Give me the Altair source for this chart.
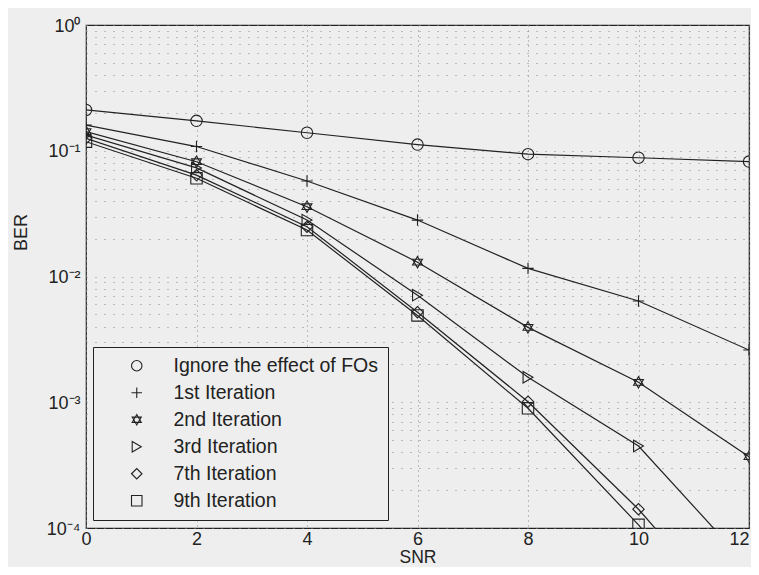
import altair as alt
import pandas as pd

snr = [0, 2, 4, 6, 8, 10, 12]
series_names = [
    "Ignore the effect of FOs",
    "1st Iteration",
    "2nd Iteration",
    "3rd Iteration",
    "7th Iteration",
    "9th Iteration",
]
ber_ignore = [0.211, 0.173, 0.139, 0.112, 0.094, 0.088, 0.082]
ber_it1 = [0.160, 0.108, 0.0575, 0.0281, 0.0116, 0.00638, 0.0026]
ber_it2 = [0.142, 0.0818, 0.0359, 0.0130, 0.00394, 0.00144, 0.000369]
ber_it3 = [0.133, 0.073, 0.0281, 0.0071, 0.00158, 0.000449, 0.000049]
ber_it7 = [0.1256, 0.064, 0.0249, 0.0052, 0.00101, 0.000141, 0.000014]
ber_it9 = [0.118, 0.0604, 0.0234, 0.0049, 0.000895, 0.000106, 0.000009]

all_series = [ber_ignore, ber_it1, ber_it2, ber_it3, ber_it7, ber_it9]

shapes = [
    "circle",
    "M-1,0L1,0M0,-1L0,1",
    "M0,-1L0.866,0.5L-0.866,0.5ZM0,1L0.866,-0.5L-0.866,-0.5Z",
    "triangle-right",
    "diamond",
    "square",
]

y_ticks = [k * 10.0 ** e for e in range(-4, 0) for k in range(1, 10)] + [1.0]
x_ticks = [0, 2, 4, 6, 8, 10, 12]

rows = []
for name, vals in zip(series_names, all_series):
    for x, v in zip(snr, vals):
        rows.append({"series": name, "snr": x, "ber": v})
df = pd.DataFrame(rows)

FONT = "Liberation Sans"
BG = "#eeeeee"
INK = "#222222"

e_expr = "round(log(datum.value)/LN10)"
is_dec = f"abs(log(datum.value)/LN10 - {e_expr}) < 1e-6"
label_expr = (
    f"!({is_dec}) ? '' : {e_expr} == 0 ? '10⁰' : {e_expr} == -1 ? '10⁻¹' : "
    f"{e_expr} == -2 ? '10⁻²' : {e_expr} == -3 ? '10⁻³' : '10⁻⁴'"
)

x_enc = alt.X(
    "snr:Q",
    scale=alt.Scale(domain=[0, 12], nice=False),
    axis=alt.Axis(
        values=x_ticks,
        format="d",
        title="SNR",
        grid=True,
        gridDash=[1, 4],
        gridColor="#888888",
        ticks=False,
        domain=False,
        labelFont=FONT,
        labelFontSize=18,
        labelColor=INK,
        labelPadding=2,
        labelAlign=alt.ExprRef(expr="datum.value == 12 ? 'right' : 'center'"),
        titleFont=FONT,
        titleFontSize=17.5,
        titleFontWeight="normal",
        titleColor=INK,
        titleBaseline="top",
        titleY=20.5,
        labelFlush=False,
    ),
)
y_enc = alt.Y(
    "ber:Q",
    scale=alt.Scale(type="log", domain=[1e-4, 1], nice=False),
    axis=alt.Axis(
        values=y_ticks,
        labelExpr=label_expr,
        title="BER",
        grid=True,
        gridDash=[1, 8],
        gridColor="#888888",
        ticks=False,
        domain=False,
        labelFont=FONT,
        labelFontSize=18,
        labelColor=INK,
        labelPadding=6,
        labelOffset=1,
        titleFont=FONT,
        titleFontSize=18,
        titleFontWeight="normal",
        titleColor=INK,
        titleAngle=270,
        titleBaseline="bottom",
        titleAlign="center",
        titleX=-56,
        titleY=207,
        labelFlush=False,
    ),
)

base = alt.Chart(df)

lines = base.mark_line(color=INK, strokeWidth=1.2, clip=True).encode(
    x=x_enc,
    y=y_enc,
    detail="series:N",
)

points = base.mark_point(
    filled=False, color=INK, strokeWidth=1.1, size=130, opacity=1, clip=True
).encode(
    x="snr:Q",
    y="ber:Q",
    shape=alt.Shape(
        "series:N",
        scale=alt.Scale(domain=series_names, range=shapes),
        sort=series_names,
        legend=alt.Legend(
            title=None,
            orient="none",
            legendX=7,
            legendY=322,
            direction="vertical",
            strokeColor=INK,
            fillColor=BG,
            padding=9,
            symbolOffset=25,
            labelOffset=27,
            rowPadding=6,
            labelFont=FONT,
            labelFontSize=19.5,
            labelColor=INK,
            labelLimit=0,
            symbolStrokeColor=INK,
            symbolFillColor="transparent",
            symbolStrokeWidth=1.1,
            symbolSize=110,
        ),
    ),
)

chart = (
    alt.layer(lines, points)
    .properties(
        width=663,
        height=503,
        background=BG,
        autosize=alt.AutoSizeParams(type="none"),
        padding={"left": 78, "top": 17, "right": 2, "bottom": 39},
    )
    .configure_view(stroke=INK, strokeWidth=1.2)
)

chart.save("out.html", embed_options={"renderer": "svg", "actions": False})
